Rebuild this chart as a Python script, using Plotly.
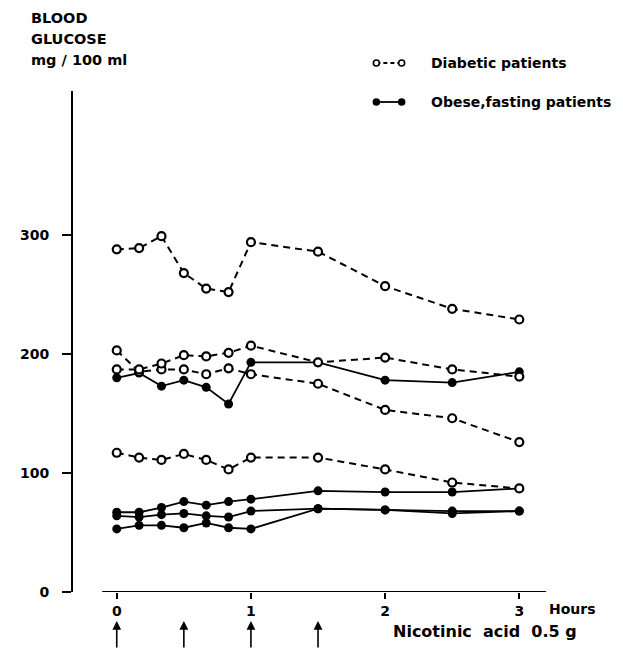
import plotly.graph_objects as go

# time points (hours)
hours = [0, 1/6, 1/3, 1/2, 2/3, 5/6, 1, 1.5, 2, 2.5, 3]

# Diabetic patients (open circles, dashed)
diabetic_1 = [288, 289, 299, 268, 255, 252, 294, 286, 257, 238, 229]
diabetic_2 = [203, 185, 187, 187, 183, 188, 183, 175, 153, 146, 126]
diabetic_3 = [187, 187, 192, 199, 198, 201, 207, 193, 197, 187, 181]
diabetic_4 = [117, 113, 111, 116, 111, 103, 113, 113, 103, 92, 87]

# Obese, fasting patients (filled circles, solid)
obese_1 = [180, 184, 173, 178, 172, 158, 193, 193, 178, 176, 185]
obese_2 = [67, 67, 71, 76, 73, 76, 78, 85, 84, 84, 87]
obese_3 = [64, 63, 65, 66, 64, 63, 68, 70, 69, 68, 68]
obese_4 = [53, 56, 56, 54, 58, 54, 53, 70, 69, 66, 68]

y_ticks = [0, 100, 200, 300]
x_ticks = [0, 1, 2, 3]
dose_times = [0, 0.5, 1, 1.5]

W, H = 623, 664
OFF = 8                      # page body margin
L, R, T, B = 50, 31, 83, 80
PW, PH = W - L - R, H - T - B
YPX = 1.19                   # pixels per mg/100 ml
HPX = 138.0                  # pixels per hour
X0 = 103 - OFF               # pixel of hour 0 inside figure

def xp(sx):
    return (sx - OFF - L) / PW

def yp(sy):
    return (H - B - (sy - OFF)) / PH

FONT = "DejaVu Sans"
fig = go.Figure()

for s in [obese_1, obese_2, obese_3, obese_4]:
    fig.add_trace(go.Scatter(
        x=hours, y=s, mode="lines+markers",
        line=dict(color="black", width=1.8),
        marker=dict(symbol="circle", size=9, color="black"),
        showlegend=False, cliponaxis=False))

for s in [diabetic_1, diabetic_2, diabetic_3, diabetic_4]:
    fig.add_trace(go.Scatter(
        x=hours, y=s, mode="lines+markers",
        line=dict(color="black", width=2, dash="7px,5px"),
        marker=dict(symbol="circle", size=8, color="white",
                    line=dict(color="black", width=2.2)),
        showlegend=False, cliponaxis=False))

shapes = []
# x axis line
shapes.append(dict(type="line", xref="x", yref="y", x0=-0.109, x1=3.20, y0=0, y1=0,
                   line=dict(color="black", width=2)))

# legend symbols
rows = [(63, True), (102, False)]
for sy, is_open in rows:
    shapes.append(dict(type="line", xref="paper", yref="paper",
                       x0=xp(370), x1=xp(396), y0=yp(sy), y1=yp(sy),
                       line=dict(color="black", width=1.8,
                                 dash="4px,3px" if is_open else "solid")))
    for sx in (370, 396):
        shapes.append(dict(type="circle", xref="paper", yref="paper",
                           xsizemode="pixel", ysizemode="pixel",
                           xanchor=xp(sx), yanchor=yp(sy),
                           x0=-3, x1=3, y0=-3, y1=3,
                           fillcolor="white" if is_open else "black",
                           line=dict(color="black", width=1.6)))

annotations = []
for t, sy in zip(["BLOOD", "GLUCOSE", "mg / 100 ml"], [18, 39, 60]):
    annotations.append(dict(text=f"<b>{t}</b>", xref="paper", yref="paper",
                            x=xp(13), y=yp(sy), xanchor="left", yanchor="middle",
                            showarrow=False, font=dict(family=FONT, size=14.5, color="black")))

annotations.append(dict(text="<b>Diabetic patients</b>", xref="paper", yref="paper",
                        x=xp(424), y=yp(63), xanchor="left", yanchor="middle", showarrow=False,
                        font=dict(family=FONT, size=14, color="black")))
annotations.append(dict(text="<b>Obese,fasting patients</b>", xref="paper", yref="paper",
                        x=xp(424), y=yp(102), xanchor="left", yanchor="middle", showarrow=False,
                        font=dict(family=FONT, size=14, color="black")))
annotations.append(dict(text="<b>Hours</b>", xref="paper", yref="paper",
                        x=xp(545), y=yp(609), xanchor="left", yanchor="middle", showarrow=False,
                        font=dict(family=FONT, size=14, color="black")))
annotations.append(dict(text="<b>Nicotinic  acid  0.5 g</b>", xref="paper", yref="paper",
                        x=xp(385), y=yp(631), xanchor="left", yanchor="middle", showarrow=False,
                        font=dict(family=FONT, size=16, color="black")))
for t in dose_times:
    annotations.append(dict(text="", xref="x", yref="paper", x=t, y=yp(621),
                            ax=0, ay=28, showarrow=True, arrowhead=2, arrowsize=1.1,
                            arrowwidth=1.6, arrowcolor="black"))

fig.update_layout(
    width=W, height=H,
    margin=dict(l=L, r=R, t=T, b=B),
    paper_bgcolor="white", plot_bgcolor="white",
    xaxis=dict(range=[(L - X0) / HPX, (W - R - X0) / HPX],
               tickvals=x_ticks, ticktext=[f"<b>{v}</b>" for v in x_ticks],
               ticks="outside", ticklen=6, tickwidth=1.5, tickcolor="black",
               showline=False, showgrid=False, zeroline=False,
               tickfont=dict(family=FONT, size=14, color="black")),
    yaxis=dict(range=[0, PH / YPX],
               tickvals=y_ticks, ticktext=[f"<b>{v}</b>" for v in y_ticks],
               ticks="outside", ticklen=9, tickwidth=1.5, tickcolor="black",
               showline=True, linecolor="black", linewidth=1.8,
               showgrid=False, zeroline=False, ticklabelstandoff=10,
               tickfont=dict(family=FONT, size=14, color="black")),
    shapes=shapes, annotations=annotations,
)

fig.write_html("out.html")
